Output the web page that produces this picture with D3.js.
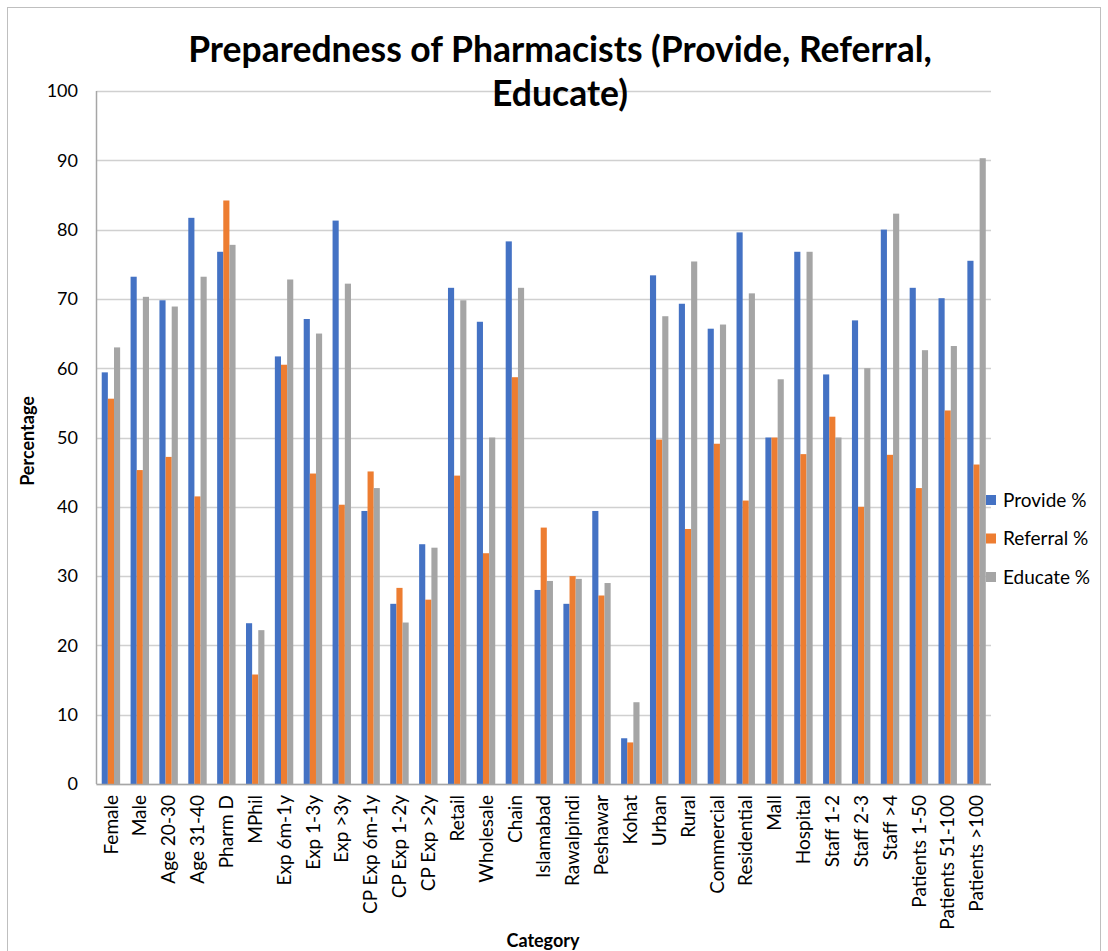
<!DOCTYPE html>
<html>
<head>
<meta charset="utf-8">
<script src="https://cdn.jsdelivr.net/npm/d3@7"></script>
<style>
  body { margin: 0; background: #fff; }
  svg text { font-family: Lato, "Open Sans", sans-serif; fill: #000; }
</style>
</head>
<body>
<div id="viz"></div>
<script>
// ====================
// DATA
// ====================
const categories = [
  'Female', 'Male', 'Age 20-30', 'Age 31-40', 'Pharm D', 'MPhil',
  'Exp 6m-1y', 'Exp 1-3y', 'Exp >3y', 'CP Exp 6m-1y', 'CP Exp 1-2y', 'CP Exp >2y',
  'Retail', 'Wholesale', 'Chain', 'Islamabad', 'Rawalpindi', 'Peshawar', 'Kohat',
  'Urban', 'Rural', 'Commercial', 'Residential', 'Mall', 'Hospital',
  'Staff 1-2', 'Staff 2-3', 'Staff >4', 'Patients 1-50', 'Patients 51-100', 'Patients >100'
];
const provide = [59.4, 73.2, 69.8, 81.7, 76.8, 23.2, 61.7, 67.1, 81.3, 39.4, 26.0, 34.6,
  71.6, 66.7, 78.3, 28.0, 26.0, 39.4, 6.6, 73.4, 69.3, 65.7, 79.6, 50.0, 76.8,
  59.1, 66.9, 80.0, 71.6, 70.1, 75.5];
const referral = [55.6, 45.3, 47.2, 41.5, 84.2, 15.8, 60.5, 44.8, 40.3, 45.1, 28.3, 26.6,
  44.5, 33.3, 58.7, 37.0, 30.0, 27.2, 6.0, 49.7, 36.8, 49.1, 40.9, 50.0, 47.6,
  53.0, 40.0, 47.5, 42.7, 53.9, 46.1];
const educate = [63.0, 70.3, 68.9, 73.2, 77.8, 22.2, 72.8, 65.0, 72.2, 42.7, 23.3, 34.1,
  69.8, 50.0, 71.6, 29.3, 29.6, 29.0, 11.8, 67.5, 75.4, 66.3, 70.8, 58.4, 76.8,
  50.0, 60.0, 82.3, 62.6, 63.2, 90.3];
const seriesNames = ['Provide %', 'Referral %', 'Educate %'];
const yTicks = [0, 10, 20, 30, 40, 50, 60, 70, 80, 90, 100];

const series = [provide, referral, educate];
const colors = ['#4472C4', '#ED7D31', '#A5A5A5'];

// ====================
// SETUP
// ====================
const width = 1108;
const height = 951;
const plot = { left: 96.5, right: 991, top: 91, bottom: 784 };

const svg = d3.select('#viz').append('svg')
  .attr('width', width)
  .attr('height', height);

// chart frame
svg.append('rect')
  .attr('x', 7.5).attr('y', 7.5)
  .attr('width', 1093).attr('height', 960)
  .attr('fill', 'none').attr('stroke', '#BFBFBF');

// Scales
const x = d3.scaleBand()
  .domain(categories)
  .range([plot.left, plot.right])
  .paddingInner(0.362)
  .paddingOuter(0.181);

const xInner = d3.scaleBand()
  .domain(d3.range(series.length))
  .range([0, x.bandwidth()]);

const y = d3.scaleLinear()
  .domain([0, 100])
  .range([plot.bottom, plot.top]);

// ====================
// GRID & AXES
// ====================
svg.append('g').selectAll('line')
  .data(yTicks)
  .join('line')
  .attr('x1', plot.left).attr('x2', plot.right)
  .attr('y1', (d) => Math.round(y(d)) + 0.5)
  .attr('y2', (d) => Math.round(y(d)) + 0.5)
  .attr('stroke', '#D0D0D0')
  .attr('stroke-width', 1.5);

svg.append('line')
  .attr('x1', plot.left).attr('x2', plot.left)
  .attr('y1', plot.top).attr('y2', plot.bottom)
  .attr('stroke', '#A6A6A6').attr('stroke-width', 1.5);

svg.append('g').selectAll('text')
  .data(yTicks)
  .join('text')
  .attr('x', 78)
  .attr('y', (d) => y(d))
  .attr('dy', '0.35em')
  .attr('text-anchor', 'end')
  .style('font-size', '18px')
  .text((d) => d);

// ====================
// BARS
// ====================
const groups = svg.append('g').selectAll('g')
  .data(categories)
  .join('g')
  .attr('transform', (d) => `translate(${x(d)},0)`);

groups.selectAll('rect')
  .data((d, i) => series.map((s, k) => ({ k, v: s[i] })))
  .join('rect')
  .attr('x', (d) => xInner(d.k))
  .attr('y', (d) => y(d.v))
  .attr('width', xInner.bandwidth())
  .attr('height', (d) => y(0) - y(d.v))
  .attr('fill', (d) => colors[d.k]);

svg.append('line')
  .attr('x1', plot.left).attr('x2', plot.right)
  .attr('y1', plot.bottom + 0.5).attr('y2', plot.bottom + 0.5)
  .attr('stroke', '#A6A6A6').attr('stroke-width', 1.5);

// Category labels
svg.append('g').selectAll('text')
  .data(categories)
  .join('text')
  .attr('transform', (d) => `translate(${x(d) + x.bandwidth() / 2},${plot.bottom + 11}) rotate(-90)`)
  .attr('dy', '0.35em')
  .attr('text-anchor', 'end')
  .style('font-size', '19px')
  .text((d) => d);

// ====================
// TITLES
// ====================
const title = svg.append('text')
  .attr('text-anchor', 'middle')
  .style('font-size', '35.5px')
  .style('font-weight', 'bold');
title.append('tspan').attr('x', 560).attr('y', 62)
  .text('Preparedness of Pharmacists (Provide, Referral,');
title.append('tspan').attr('x', 560).attr('y', 106)
  .text('Educate)');

svg.append('text')
  .attr('transform', 'translate(34,441) rotate(-90)')
  .attr('text-anchor', 'middle')
  .style('font-size', '18px')
  .style('font-weight', 'bold')
  .text('Percentage');

svg.append('text')
  .attr('x', 543).attr('y', 947)
  .attr('text-anchor', 'middle')
  .style('font-size', '18px')
  .style('font-weight', 'bold')
  .text('Category');

// ====================
// LEGEND
// ====================
const legend = svg.append('g').selectAll('g')
  .data(seriesNames)
  .join('g')
  .attr('transform', (d, i) => `translate(986,${500 + i * 38.5})`);

legend.append('rect')
  .attr('x', 0).attr('y', -5)
  .attr('width', 10).attr('height', 10)
  .attr('fill', (d, i) => colors[i]);

legend.append('text')
  .attr('x', 17).attr('y', 0)
  .attr('dy', '0.35em')
  .style('font-size', '19px')
  .text((d) => d);
</script>
</body>
</html>
